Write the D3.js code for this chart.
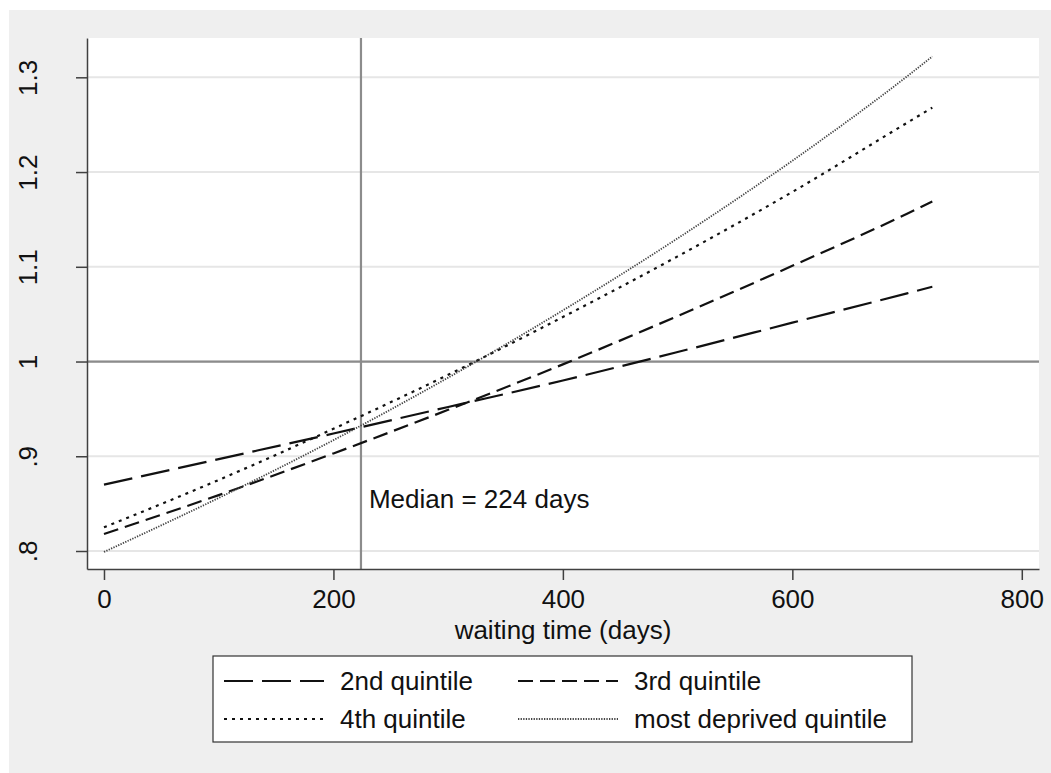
<!DOCTYPE html>
<html>
<head>
<meta charset="UTF-8">
<title>Hazard ratio by waiting time</title>
<script src="https://cdnjs.cloudflare.com/ajax/libs/d3/7.8.5/d3.min.js"></script>
<style>
body{margin:0;background:#fff;}
text{font-family:"Liberation Sans",Arial,sans-serif;font-size:26px;fill:#111;}
.axis path,.axis line{stroke:#404040;stroke-width:1.5;}
</style>
</head>
<body>
<div id="chart"></div>
<script>
// values
var days = [0, 100, 200, 300, 400, 500, 600, 700, 722];
var q2 = [0.870, 0.897, 0.924, 0.952, 0.980, 1.010, 1.041, 1.072, 1.079];
var q3 = [0.818, 0.859, 0.903, 0.949, 0.997, 1.048, 1.101, 1.156, 1.169];
var q4 = [0.825, 0.875, 0.929, 0.986, 1.047, 1.111, 1.179, 1.252, 1.268];
var q5 = [0.799, 0.856, 0.917, 0.983, 1.054, 1.130, 1.212, 1.301, 1.322];
var seriesNames = ["2nd quintile", "3rd quintile", "4th quintile", "most deprived quintile"];
var xTicks = [0, 200, 400, 600, 800];
var yTicks = [0.8, 0.9, 1, 1.1, 1.2, 1.3];
var median = 224;

var width = 1051, height = 773;
var svg = d3.select("#chart").append("svg").attr("width", width).attr("height", height);

// outer grey region and plot region
svg.append("rect").attr("x", 9).attr("y", 10).attr("width", width - 9).attr("height", height - 10).attr("fill", "#efefef");
svg.append("rect").attr("x", 87).attr("y", 38).attr("width", 1039 - 87).attr("height", 569 - 38).attr("fill", "#fff");

var x = d3.scaleLinear().domain([-14.8, 815]).range([87, 1039]);
var y = d3.scaleLinear().domain([0.781, 1.3415]).range([569, 38]);

// gridlines
svg.selectAll(".grid").data(yTicks).enter().append("line")
  .attr("x1", 87).attr("x2", 1039)
  .attr("y1", function(d){return y(d);}).attr("y2", function(d){return y(d);})
  .attr("stroke", "#e6e6e6").attr("stroke-width", 2);

// reference lines
svg.append("line").attr("x1", 87).attr("x2", 1039).attr("y1", y(1)).attr("y2", y(1))
  .attr("stroke", "#8c8c8c").attr("stroke-width", 2.2);
svg.append("line").attr("x1", x(median)).attr("x2", x(median)).attr("y1", 38).attr("y2", 569)
  .attr("stroke", "#8c8c8c").attr("stroke-width", 2.2);

svg.append("text").attr("x", x(median) + 8).attr("y", 508).text("Median = " + median + " days");

// series
var styles = [
  {dash: "29,9", w: 2.2, c: "#111"},
  {dash: "15,7", w: 2.2, c: "#111"},
  {dash: "3,5", w: 2.2, c: "#111"},
  {dash: "1.3,1.3", w: 1.8, c: "#444"}
];
var all = [q2, q3, q4, q5];
var line = d3.line().x(function(d){return x(d[0]);}).y(function(d){return y(d[1]);}).curve(d3.curveMonotoneX);
all.forEach(function(vals, i){
  svg.append("path")
    .datum(days.map(function(t, j){return [t, vals[j]];}))
    .attr("d", line)
    .attr("fill", "none")
    .attr("stroke", styles[i].c)
    .attr("stroke-width", styles[i].w)
    .attr("stroke-dasharray", styles[i].dash);
});

// axes
var xAxis = svg.append("g").attr("class", "axis").attr("transform", "translate(0,569)")
  .call(d3.axisBottom(x).tickValues(xTicks).tickSize(11).tickSizeOuter(0));
xAxis.selectAll("text").attr("y", 39).attr("dy", 0).style("font-size", "26px").style("font-family", "'Liberation Sans',Arial,sans-serif").attr("fill", "#111");

var yAxis = svg.append("g").attr("class", "axis").attr("transform", "translate(87,0)")
  .call(d3.axisLeft(y).tickValues(yTicks).tickSize(11).tickSizeOuter(0)
    .tickFormat(function(d){return d < 1 ? String(d).replace(/^0/, "") : String(d);}));
yAxis.selectAll("text")
  .attr("transform", "rotate(-90)")
  .attr("x", 0).attr("y", -50).attr("dy", 0)
  .attr("text-anchor", "middle")
  .style("font-size", "26px").style("font-family", "'Liberation Sans',Arial,sans-serif").attr("fill", "#111");

svg.append("text").attr("x", 563).attr("y", 639).attr("text-anchor", "middle").text("waiting time (days)");

// legend
var lg = svg.append("g");
lg.append("rect").attr("x", 213).attr("y", 656).attr("width", 912 - 213).attr("height", 742 - 656)
  .attr("fill", "#fff").attr("stroke", "#333").attr("stroke-width", 1.2);
var cols = [224, 518], rows = [681, 719];
seriesNames.forEach(function(name, i){
  var cx = cols[i % 2], cy = rows[Math.floor(i / 2)];
  lg.append("line").attr("x1", cx).attr("x2", cx + 100).attr("y1", cy).attr("y2", cy)
    .attr("stroke", styles[i].c).attr("stroke-width", styles[i].w).attr("stroke-dasharray", styles[i].dash);
  lg.append("text").attr("x", cx + 116).attr("y", cy + 9).text(name);
});
</script>
</body>
</html>
